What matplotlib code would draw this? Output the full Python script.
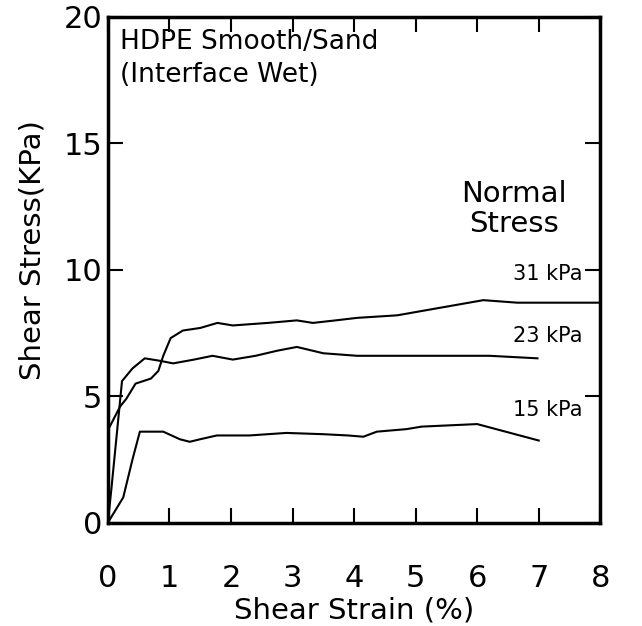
import numpy as np
import matplotlib.pyplot as plt

# curves: shear strain (%) vs shear stress (kPa)
strain_31 = [0.0, 0.01, 0.2, 0.3, 0.45, 0.7, 0.82, 0.9, 1.02, 1.22, 1.5, 1.78, 2.03,
             2.6, 3.07, 3.33, 3.7, 4.05, 4.7, 5.4, 6.1, 6.65, 8.0]
stress_31 = [0.0, 3.7, 4.6, 4.9, 5.5, 5.7, 6.0, 6.6, 7.3, 7.6, 7.7, 7.9, 7.8,
             7.9, 8.0, 7.9, 8.0, 8.1, 8.2, 8.5, 8.8, 8.7, 8.7]

strain_23 = [0.0, 0.06, 0.23, 0.4, 0.6, 0.85, 1.06, 1.4, 1.7, 2.03, 2.4, 2.75, 3.07,
             3.5, 4.05, 5.0, 6.2, 6.98]
stress_23 = [0.0, 1.4, 5.6, 6.1, 6.5, 6.4, 6.3, 6.45, 6.6, 6.45, 6.6, 6.8, 6.95,
             6.7, 6.6, 6.6, 6.6, 6.5]

strain_15 = [0.0, 0.25, 0.4, 0.52, 0.9, 1.17, 1.33, 1.5, 1.77, 2.3, 2.9, 3.5, 3.9,
             4.15, 4.37, 4.85, 5.1, 6.0, 7.0]
stress_15 = [0.0, 1.0, 2.5, 3.6, 3.6, 3.3, 3.2, 3.3, 3.45, 3.45, 3.55, 3.5, 3.45,
             3.4, 3.6, 3.7, 3.8, 3.9, 3.25]

curve_labels = ["31 kPa", "23 kPa", "15 kPa"]
label_y = [9.85, 7.4, 4.45]

xticks = [0, 1, 2, 3, 4, 5, 6, 7, 8]
yticks = [0, 5, 10, 15, 20]

plt.rcParams['font.family'] = ['DejaVu Sans']

fig = plt.figure(figsize=(6.42, 6.26), dpi=100)
ax = fig.add_axes([0.168, 0.165, 0.767, 0.808])

for sx, sy in [(strain_31, stress_31), (strain_23, stress_23), (strain_15, stress_15)]:
    ax.plot(sx, sy, color="black", lw=1.5)

ax.set_xlim(0, 8)
ax.set_ylim(0, 20)
ax.set_xticks(xticks)
ax.set_yticks(yticks)
ax.tick_params(direction="in", length=11, width=1.5, top=True, right=True,
               labelsize=22)
ax.tick_params(axis="x", pad=30)
ax.tick_params(axis="y", pad=4)
for s in ax.spines.values():
    s.set_linewidth(2.5)

ax.set_xlabel("Shear Strain (%)", fontsize=21, labelpad=2)
ax.set_ylabel("Shear Stress(KPa)", fontsize=21)
ax.yaxis.set_label_coords(-0.125, 0.54)

ax.text(0.2, 19.0, "HDPE Smooth/Sand", fontsize=19, va="center", ha="left")
ax.text(0.2, 17.7, "(Interface Wet)", fontsize=19, va="center", ha="left")
ax.text(6.6, 13.0, "Normal", fontsize=21, ha="center", va="center")
ax.text(6.6, 11.8, "Stress", fontsize=21, ha="center", va="center")
for lab, ly in zip(curve_labels, label_y):
    ax.text(7.15, ly, lab, fontsize=15, ha="center", va="center",
            bbox=dict(facecolor="white", edgecolor="none", pad=1))

fig.savefig("out.png", dpi=100)
